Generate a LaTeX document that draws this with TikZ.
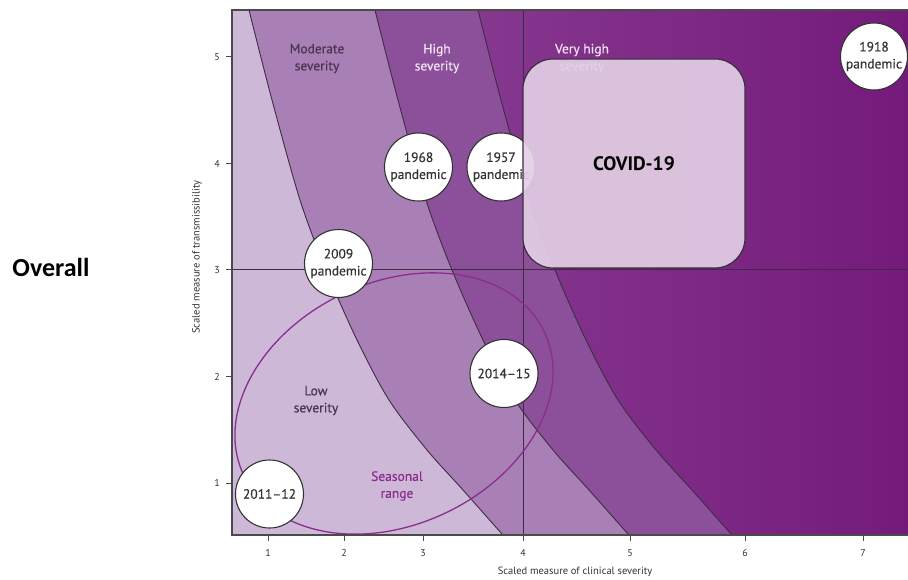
\documentclass[tikz,border=0pt]{standalone}
\usepackage{fontspec}
\setmainfont{PT Sans}
\newfontfamily\carl{Carlito}
\newfontfamily\semib{PT Sans}[FakeBold=0.4]
\definecolor{lightb}{HTML}{CEB8D8}
\definecolor{modb}{HTML}{A880B6}
\definecolor{highb}{HTML}{8B5099}
\definecolor{vhA}{HTML}{86388F}
\definecolor{vhB}{HTML}{741A7B}
\definecolor{lineD}{HTML}{3D2C42}
\definecolor{boxF}{HTML}{E2CFE5}
\definecolor{seas}{HTML}{8B2D8F}
\definecolor{darkT}{HTML}{4B3552}
\definecolor{lightT}{HTML}{F2E4F4}
\definecolor{axisG}{HTML}{4A4A4A}
\definecolor{txtD}{HTML}{333333}
\newcommand{\bandfill}[2]{\fill[#2, shift={(#1,0)}] (-400,-20) -- plot[smooth] coordinates {(-7,-20) (0,10) (23,100) (51,200) (77,270) (108,340) (140,400) (178,450) (214,490) (254,535) (282,565)} -- (-400,600) -- cycle;}
\newcommand{\bandline}[1]{\draw[bline, shift={(#1,0)}] plot[smooth] coordinates {(-7,-20) (0,10) (23,100) (51,200) (77,270) (108,340) (140,400) (178,450) (214,490) (254,535) (282,565)};}
\tikzset{
  yearcirc/.style={circle, draw=txtD, line width=1.1pt, fill=white, minimum size=68pt, inner sep=0pt, align=center, text=txtD, font=\semib\fontsize{13.5}{17}\selectfont},
  bandlab/.style={align=center, inner sep=0pt, font=\semib\fontsize{13.5}{17}\selectfont},
  ticklab/.style={inner sep=0pt, text=txtD, font=\fontsize{10}{12}\selectfont},
  bline/.style={draw=lineD, line width=0.9pt},
}
\begin{document}
\begin{tikzpicture}[x=1pt,y=-1pt]
\useasboundingbox (0,0) rectangle (908,580);
\begin{scope}
\clip (232,10) rectangle (908,535);
\fill[left color=vhA, right color=vhB] (470,0) rectangle (910,540);
\bandfill{478}{highb}
\bandfill{375}{modb}
\bandfill{249}{lightb}
\bandline{249}
\bandline{375}
\bandline{478}
\draw[lineD, line width=1pt] (523,0) -- (523,540);
\draw[lineD, line width=1pt] (230,270) -- (910,270);
\draw[seas, line width=1.3pt, rotate around={25.5:(394,403.5)}] (394,403.5) ellipse [x radius=166.5pt, y radius=121pt];
\end{scope}
% frame and ticks
\draw[axisG, line width=1.2pt] (908,10) -- (232,10) -- (232,535) -- (908,535);
\foreach \xx/\ll in {268/1, 344/2, 423/3, 523/4, 630/5, 745/6, 863/7} {
  \draw[axisG, line width=1pt] (\xx,535) -- (\xx,541);
  \node[ticklab] (xt\ll) at (\xx,553) {\ll};
}
\foreach \yy/\ll in {57/5, 163.5/4, 270/3, 376.5/2, 483/1} {
  \draw[axisG, line width=1pt] (226,\yy) -- (232,\yy);
  \node[ticklab] (yt\ll) at (217,\yy) {\ll};
}
% band labels
\node[bandlab, text=darkT] (modlab) at (317,58.5) {Moderate\\severity};
\node[bandlab, text=lightT] (highlab) at (437,58.5) {High\\severity};
\node[bandlab, text=lightT] (vhlab) at (582,58.5) {Very high\\severity};
\node[bandlab, text=darkT] (lowlab) at (316,400.5) {Low\\severity};
\node[bandlab, text=seas] (seaslab) at (397,486) {Seasonal\\range};
% year circles
\node[yearcirc] (p1968) at (418.5,167) {1968\\pandemic};
\node[yearcirc] (p1957) at (501,167) {1957\\pandemic};
\node[yearcirc] (p2009) at (338.5,263.5) {2009\\pandemic};
\node[yearcirc] (p2014) at (504,373.5) {2014\textendash15};
\node[yearcirc] (p2011) at (269.5,494) {2011\textendash12};
\node[yearcirc, minimum size=67pt] (p1918) at (874,56.5) {1918\\pandemic};
% COVID box
\node[draw=lineD, line width=1.2pt, fill=boxF, fill opacity=0.92, text opacity=1, rounded corners=30pt, minimum width=222pt, minimum height=209pt, font=\bfseries\fontsize{19.5}{22}\selectfont, text=black] (covid) at (634,163.5) {COVID-19};
% axis titles
\node[inner sep=0pt, text=txtD, font=\fontsize{10.5}{12}\selectfont] (xlab) at (575,572) {Scaled measure of clinical severity};
\node[inner sep=0pt, text=txtD, font=\fontsize{10.5}{12}\selectfont, rotate=90] (ylab) at (197,257) {Scaled measure of transmissibility};
\node[inner sep=0pt, font=\carl\bfseries\fontsize{26}{30}\selectfont] (overall) at (51,267) {Overall};
\end{tikzpicture}
\end{document}
